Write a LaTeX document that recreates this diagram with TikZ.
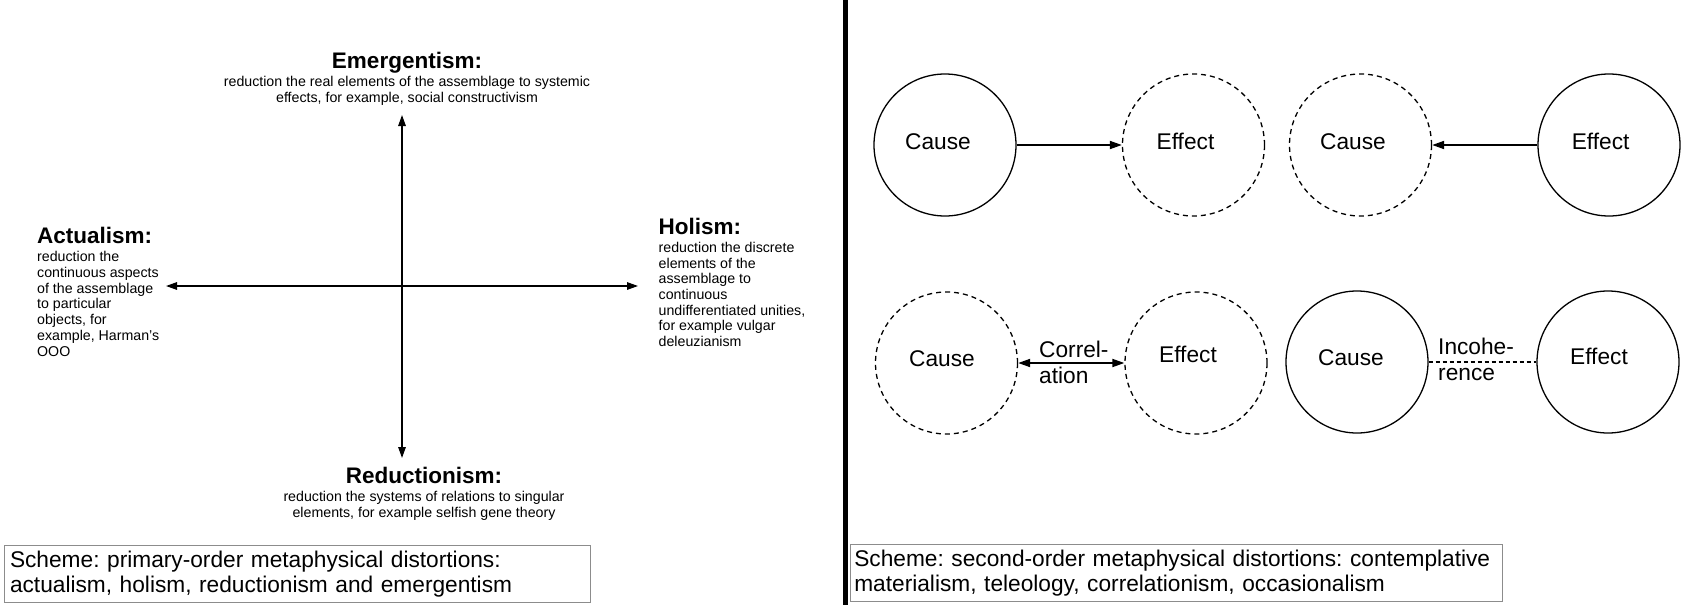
\documentclass[tikz,border=0pt]{standalone}
\usepackage{fontspec}
\setmainfont{Liberation Sans}
\usetikzlibrary{arrows.meta}
\tikzset{
  ctip/.tip={Triangle[length=12pt,width=8pt]},
  atip/.tip={Triangle[length=11pt,width=7.5pt]}
}
\frenchspacing
\begin{document}
\begin{tikzpicture}[x=1pt,y=-1pt,
  ttl/.style={font=\fontsize{22.5}{25.5}\selectfont\bfseries, inner sep=0pt},
  body/.style={font=\fontsize{14.2}{15.7}\selectfont, inner sep=0pt, align=left},
  axisline/.style={line width=1.4pt, {atip}-{atip}},
  solidc/.style={circle, draw, line width=1.3pt, minimum size=142pt, inner sep=0pt},
  dashc/.style={solidc, dash pattern=on 5pt off 4pt},
  lab/.style={font=\fontsize{22.7}{25.5}\selectfont, inner sep=0pt, anchor=base},
  conn/.style={line width=1.8pt},
  elab/.style={font=\fontsize{22.7}{26}\selectfont, inner sep=0pt, anchor=base west, align=left},
  capbox/.style={draw=black!45, line width=1pt, anchor=north west, inner ysep=0pt, align=left,
    font=\fontsize{22.7}{25}\selectfont, minimum height=57pt}
]
\useasboundingbox (0,0) rectangle (1701,605);

% divider
\coordinate (dtop) at (845,0);
\coordinate (dbot) at (845,605);
\draw[line width=5pt] (dtop) -- (dbot);

% ---------- left: axes ----------
\coordinate (up) at (402,115);
\coordinate (down) at (402,458);
\coordinate (lt) at (166,286);
\coordinate (rt) at (638,286);
\draw[axisline] (up) -- (down);
\draw[axisline] (lt) -- (rt);

\node[ttl, anchor=base] (emt) at (407,68) {Emergentism:};
\node[body, align=center, anchor=base] (emb) at (407,102)
  {reduction the real elements of the assemblage to systemic\\effects, for example, social constructivism};

\node[ttl, anchor=base west] (act) at (37,243) {Actualism:};
\node[body, anchor=base west] (acb) at (37,356)
  {reduction the\\continuous aspects\\of the assemblage\\to particular\\objects, for\\example, Harman's\\OOO};

\node[ttl, anchor=base west] (hol) at (658.5,234) {Holism:};
\node[body, anchor=base west] (hob) at (658.5,346.5)
  {reduction the discrete\\elements of the\\assemblage to\\continuous\\undifferentiated unities,\\for example vulgar\\deleuzianism};

\node[ttl, anchor=base] (red) at (424,483) {Reductionism:};
\node[body, align=center, anchor=base] (reb) at (424,517.5)
  {reduction the systems of relations to singular\\elements, for example selfish gene theory};

\node[capbox, text width=575pt, inner xsep=5.5pt] (cap1) at (4,545)
  {Scheme: primary-order metaphysical distortions:\\actualism, holism, reductionism and emergentism};

% ---------- right: causes and effects ----------
\node[solidc] (c1) at (945,145) {};
\node[dashc]  (e1) at (1193.5,145) {};
\node[dashc]  (c2) at (1360.5,145) {};
\node[solidc] (e2) at (1609,145) {};
\node[dashc]  (c3) at (946.5,363) {};
\node[dashc]  (e3) at (1196,363) {};
\node[solidc] (c4) at (1357,362) {};
\node[solidc] (e4) at (1608,362) {};

\node[lab] (lc1) at (938,149) {Cause};
\node[lab] (le1) at (1185.5,149) {Effect};
\node[lab] (lc2) at (1353,149) {Cause};
\node[lab] (le2) at (1600.6,149) {Effect};
\node[lab] (lc3) at (942,366.7) {Cause};
\node[lab] (le3) at (1188,362.7) {Effect};
\node[lab] (lc4) at (1351,365) {Cause};
\node[lab] (le4) at (1599,364) {Effect};

\draw[conn, -{ctip}] (c1.east) -- (e1.west);
\draw[conn, -{ctip}] (e2.west) -- (c2.east);
\draw[conn, {ctip}-{ctip}] (c3.east) -- (e3.west);
\draw[conn, line width=1.3pt, dash pattern=on 4pt off 3pt] (c4.east) -- (e4.west);

\node[elab] (corr) at (1039,383.3) {Correl-\\ation};
\node[elab] (inco) at (1438,380) {Incohe-\\rence};

\node[capbox, text width=644.4pt, inner xsep=3.8pt] (cap2) at (850,544)
  {Scheme: second-order metaphysical distortions: contemplative\\materialism, teleology, correlationism, occasionalism};
\end{tikzpicture}
\end{document}
